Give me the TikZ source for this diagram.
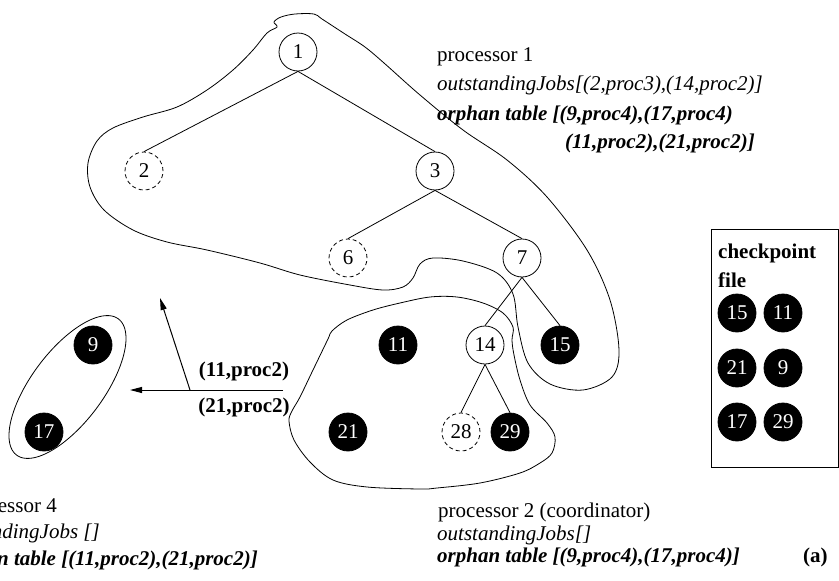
\documentclass[tikz,border=0pt]{standalone}
\usepackage{fontspec}
\setmainfont{Liberation Serif}
\usetikzlibrary{arrows.meta}
\begin{document}
\begin{tikzpicture}[x=1pt,y=-1pt,
  every node/.style={font=\fontsize{21}{25}\selectfont},
  job/.style={circle,draw,line width=0.8pt,minimum size=38pt,inner sep=0pt},
  lostjob/.style={job,dashed,dash pattern=on 4pt off 3pt},
  donejob/.style={job,fill=black,text=white},
  treeedge/.style={line width=0.8pt},
  blob/.style={line width=0.8pt},
  msg/.style={line width=1pt,-{Triangle[length=12pt,width=6pt]}},
  txt/.style={inner sep=0pt,anchor=base west},
  txtr/.style={inner sep=0pt,anchor=base east}]
\useasboundingbox (0,0) rectangle (839,581);
\clip (0,0) rectangle (839,581);

% computation tree
\node[job] (n1) at (298,52) {1};
\node[lostjob] (n2) at (144,171) {2};
\node[job] (n3) at (435,171) {3};
\node[lostjob] (n6) at (348,258) {6};
\node[job] (n7) at (522,258) {7};
\node[donejob] (n11) at (398,345) {11};
\node[job] (n14) at (485,345) {14};
\node[donejob] (n15) at (560,345) {15};
\node[donejob] (n21) at (348,432) {21};
\node[lostjob] (n28) at (461,432) {28};
\node[donejob] (n29) at (510,432) {29};
\node[donejob] (n9) at (93,345) {9};
\node[donejob] (n17) at (44,432) {17};

\draw[treeedge] (n1.south) -- (n2.north);
\draw[treeedge] (n1.south) -- (n3.north);
\draw[treeedge] (n3.south) -- (n6.north);
\draw[treeedge] (n3.south) -- (n7.north);
\draw[treeedge] (n7.south) -- (n14.north);
\draw[treeedge] (n7.south) -- (n15.north);
\draw[treeedge] (n14.south) -- (n28.north);
\draw[treeedge] (n14.south) -- (n29.north);

% processor 1 region
\draw[blob] plot[smooth cycle,tension=0.55] coordinates {
  (277,27) (274,22) (281,17) (295,14) (314,14) (322,19) (345,34) (365,47)
  (384,63) (420,95) (463,130) (507,160) (547,197) (587,250) (610,300)
  (619,350) (612,377) (583,390) (550,384) (528,363) (518,327) (513,294)
  (497,273) (463,261) (433,258) (420,264) (413,278) (403,287) (383,290)
  (350,285) (300,275) (260,263) (207,250) (167,242) (133,230) (104,210)
  (90,187) (88,163) (97,141) (113,128) (143,117) (177,107) (207,90)
  (233,70) (253,50) (267,33)};

% processor 2 region
\draw[blob] plot[smooth cycle,tension=0.55] coordinates {
  (332,331) (347,320) (373,310) (400,303) (430,297) (457,297) (483,303)
  (503,313) (513,327) (512,340) (514,355) (520,380) (530,405) (547,423)
  (555,437) (552,453) (540,463) (520,473) (480,483) (437,488) (420,489)
  (367,487) (333,480) (310,462) (294,440) (289,421) (292,411) (300,397)
  (313,370) (328,339)};

% processor 4 region: tilted ellipse around 9 and 17
\draw[blob] plot[domain=0:360,samples=120,smooth cycle]
  ({67.5+85*cos(\x)*0.599+36*sin(\x)*0.801},
   {387-85*cos(\x)*0.801+36*sin(\x)*0.599});

% orphan messages
\coordinate (src) at (283,390);
\coordinate (fork) at (190,390);
\coordinate (up) at (160,298);
\draw[msg] (src) -- (130,390) coordinate (dst);
\draw[msg] (fork) -- (up);
\node[inner sep=0pt,anchor=base,font=\fontsize{21}{25}\selectfont\bfseries] (m1) at (244,376) {(11,proc2)};
\node[inner sep=0pt,anchor=base,font=\fontsize{21}{25}\selectfont\bfseries] (m2) at (244,412) {(21,proc2)};

% processor 1 state
\node[txt] (p1a) at (437,61) {processor 1};
\node[txt] (p1b) at (437,90) {\itshape outstandingJobs[(2,proc3),(14,proc2)]};
\node[txt] (p1c) at (437,120) {\bfseries\itshape orphan table [(9,proc4),(17,proc4)};
\node[txt] (p1d) at (565,148) {\bfseries\itshape (11,proc2),(21,proc2)]};

% processor 2 state
\node[txt] (p2a) at (438,517) {processor 2 (coordinator)};
\node[txt] (p2b) at (437,540) {\itshape outstandingJobs[]};
\node[txt] (p2c) at (437,562) {\bfseries\itshape orphan table [(9,proc4),(17,proc4)]};
\node[txt] (lab) at (803,562) {\bfseries (a)};

% processor 4 state
\node[txtr] (p4a) at (57,512) {processor 4};
\node[txtr] (p4b) at (100,538) {\itshape outstandingJobs []};
\node[txtr] (p4c) at (258,565) {\bfseries\itshape orphan table [(11,proc2),(21,proc2)]};

% checkpoint file
\draw[line width=1pt] (711,229) rectangle (838.5,467);
\node[txt] (cpa) at (718,258) {\bfseries checkpoint};
\node[txt] (cpb) at (718,287) {\bfseries file};
\node[donejob] (c15) at (737,313) {15};
\node[donejob] (c11) at (783,313) {11};
\node[donejob] (c21) at (737,368) {21};
\node[donejob] (c9) at (783,368) {9};
\node[donejob] (c17) at (737,422) {17};
\node[donejob] (c29) at (783,422) {29};
\end{tikzpicture}
\end{document}
